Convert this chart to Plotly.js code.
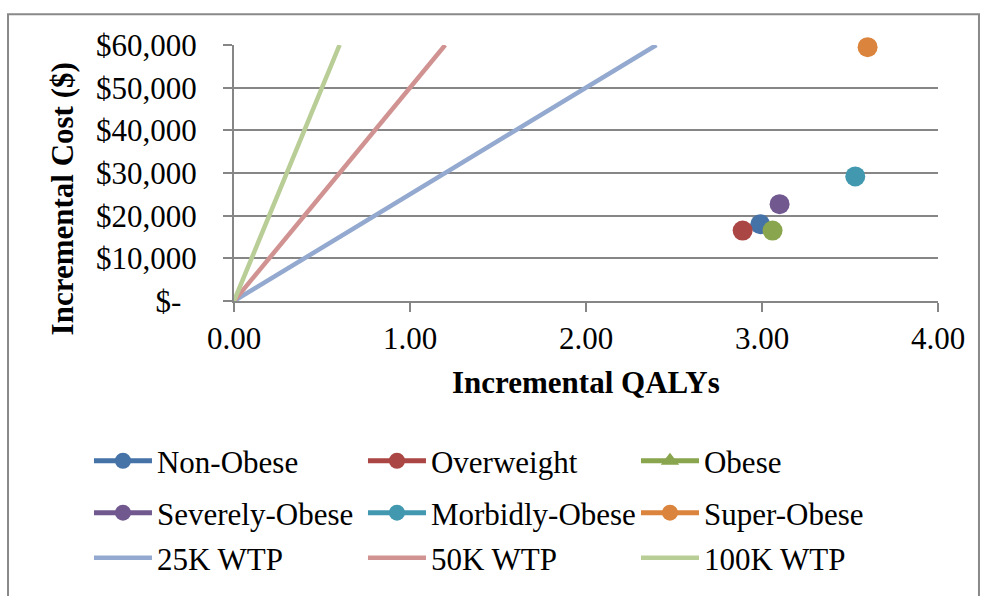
<!DOCTYPE html>
<html>
<head>
<meta charset="utf-8">
<script src="https://cdn.plot.ly/plotly-3.0.1.min.js"></script>
<style>html,body{margin:0;padding:0;background:#fff;}#chart{width:982px;height:596px;}</style>
</head>
<body>
<div id="chart"></div>
<script>
// Data
var groupNames = ["Non-Obese", "Overweight", "Obese", "Severely-Obese", "Morbidly-Obese", "Super-Obese"];
var groupQALYs = [2.99, 2.89, 3.06, 3.10, 3.53, 3.60];
var groupCosts = [18000, 16500, 16500, 22700, 29200, 59500];
var groupColors = ["#4572A7", "#AA4643", "#89A54E", "#71588F", "#4198AF", "#DB843D"];

var wtpNames = ["25K WTP", "50K WTP", "100K WTP"];
var wtpValues = [25000, 50000, 100000];
var wtpX = [[0, 2.4], [0, 1.2], [0, 0.6]];
var wtpY = [[0, 60000], [0, 60000], [0, 60000]];
var wtpColors = ["#93A9CF", "#D19392", "#B9CD96"];

var yTickVals = [0, 10000, 20000, 30000, 40000, 50000, 60000];
var yTickText = ["$-\u00a0\u00a0", "$10,000", "$20,000", "$30,000", "$40,000", "$50,000", "$60,000"];
var xTickVals = [0, 1, 2, 3, 4];
var xTickText = ["0.00", "1.00", "2.00", "3.00", "4.00"];

var FONT = "Liberation Serif, Times New Roman, serif";
// one legend per entry, laid out as a 3x3 grid
var groupLegend = ["legend", "legend2", "legend3", "legend4", "legend5", "legend6"];
var wtpLegend = ["legend7", "legend8", "legend9"];

var traces = [];
for (var j = 0; j < wtpNames.length; j++) {
  traces.push({
    type: "scatter", mode: "lines", name: wtpNames[j],
    x: wtpX[j], y: wtpY[j],
    line: {color: wtpColors[j], width: 4.5},
    legend: wtpLegend[j],
    cliponaxis: false, hoverinfo: "name"
  });
}
for (var i = 0; i < groupNames.length; i++) {
  var isObese = groupNames[i] === "Obese";
  traces.push({
    type: "scatter", mode: "lines+markers", name: groupNames[i],
    x: [groupQALYs[i]], y: [groupCosts[i]],
    marker: {color: groupColors[i], size: 20, symbol: "circle"},
    line: {color: groupColors[i], width: 5},
    legend: groupLegend[i],
    showlegend: !isObese, cliponaxis: false
  });
  if (isObese) {
    traces.push({
      type: "scatter", mode: "lines+markers", name: groupNames[i],
      x: [null], y: [null],
      marker: {color: groupColors[i], size: 16, symbol: "triangle-up"},
      line: {color: groupColors[i], width: 5},
      legend: groupLegend[i],
      showlegend: true
    });
  }
}

var colX = [-0.206, 0.1832, 0.571];
var rowY = [-0.514, -0.716, -0.891];
function leg(c, r) {
  return {
    orientation: "v", yanchor: "top", xanchor: "left",
    x: colX[c], y: rowY[r],
    font: {family: FONT, size: 31, color: "#000"},
    bgcolor: "rgba(0,0,0,0)", borderwidth: 0,
    itemwidth: 58, traceorder: "normal"
  };
}

var layout = {
  width: 982, height: 596,
  margin: {l: 234, r: 44, t: 45, b: 294},
  paper_bgcolor: "#fff", plot_bgcolor: "#fff",
  font: {family: FONT, size: 31, color: "#000"},
  showlegend: true,
  legend: leg(0, 0), legend2: leg(1, 0), legend3: leg(2, 0),
  legend4: leg(0, 1), legend5: leg(1, 1), legend6: leg(2, 1),
  legend7: leg(0, 2), legend8: leg(1, 2), legend9: leg(2, 2),
  xaxis: {
    range: [0, 4], tickvals: xTickVals, ticktext: xTickText,
    showgrid: false, zeroline: false,
    showline: true, linecolor: "#868686", linewidth: 2,
    ticks: "outside", ticklen: 9, tickwidth: 2, tickcolor: "#868686",
    tickfont: {family: FONT, size: 31, color: "#000"},
    ticklabelstandoff: 0, fixedrange: true
  },
  yaxis: {
    range: [0, 60000], tickvals: yTickVals, ticktext: yTickText,
    showgrid: true, gridcolor: "#868686", gridwidth: 2, zeroline: false,
    showline: true, linecolor: "#868686", linewidth: 2,
    ticks: "outside", ticklen: 9, tickwidth: 2, tickcolor: "#868686",
    tickfont: {family: FONT, size: 31, color: "#000"},
    ticklabelstandoff: 20, fixedrange: true
  },
  annotations: [
    {text: "<b>Incremental Cost ($)</b>", xref: "paper", yref: "paper",
     x: -0.2443, y: 0.397, xanchor: "center", yanchor: "middle", textangle: -90,
     showarrow: false, font: {family: FONT, size: 31, color: "#000"}},
    {text: "<b>Incremental QALYs</b>", xref: "paper", yref: "paper",
     x: 0.5, y: -0.32, xanchor: "center", yanchor: "middle",
     showarrow: false, font: {family: FONT, size: 31, color: "#000"}}
  ],
  shapes: [
    {type: "rect", xref: "paper", yref: "paper", x0: -0.3210, x1: 1.0582, y0: -1.2, y1: 1.1206,
     line: {color: "#898989", width: 2}, fillcolor: "rgba(0,0,0,0)", layer: "below"}
  ]
};

Plotly.newPlot("chart", traces, layout, {displayModeBar: false, staticPlot: true});
</script>
</body>
</html>
